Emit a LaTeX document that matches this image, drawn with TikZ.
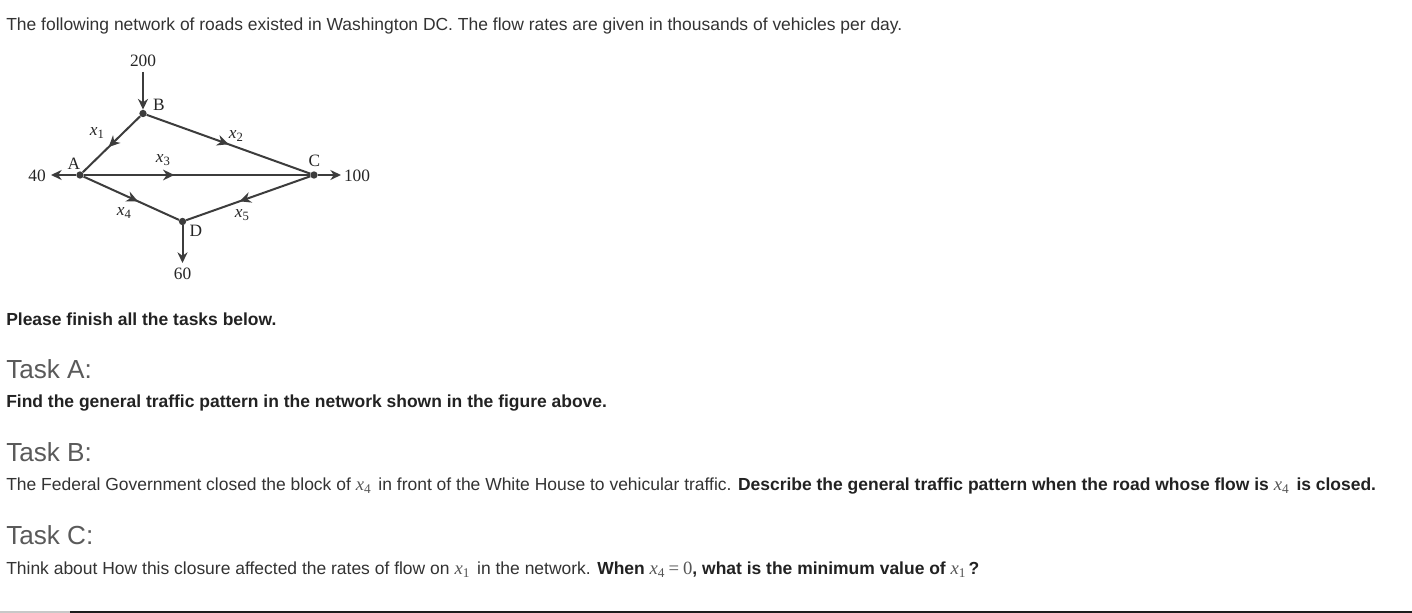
\documentclass[tikz,border=0pt]{standalone}
\usepackage{fontspec}
\setmainfont{Liberation Sans}
\newfontfamily\dserif{Liberation Serif}
\usetikzlibrary{arrows.meta,decorations.markings}
\definecolor{txt}{HTML}{333333}
\definecolor{boldtxt}{HTML}{222222}
\definecolor{head}{HTML}{5A5A5A}
\definecolor{road}{HTML}{3C3C3C}
\definecolor{mathc}{HTML}{555555}
\definecolor{rulelight}{HTML}{C8C8C8}
\definecolor{ruledark}{HTML}{1E1E1E}
\newcommand{\vx}[1]{{\dserif\color{mathc}\itshape\mdseries\fontsize{14}{14}\selectfont x\raisebox{-0.4ex}{\upshape\fontsize{10}{10}\selectfont #1}}}
\newcommand{\dvx}[1]{{\itshape x\raisebox{-0.4ex}{\upshape\fontsize{9.5}{9.5}\selectfont #1}}}
\tikzset{
  road/.style={draw=road, line width=1.5pt},
  midarrow/.style={postaction={decorate}, decoration={markings,
      mark=at position #1 with {\arrow[road]{Stealth[length=8.5pt,width=8pt]}}}},
  endarrow/.style={road, -{Stealth[length=8pt,width=7.5pt]}},
  junction/.style={circle, fill=road, inner sep=0pt, minimum size=5.5pt},
  dlabel/.style={font=\dserif\fontsize{13}{13}\selectfont, text=black!85, inner sep=0pt},
  bodytext/.style={anchor=base west, inner sep=0pt, font=\fontsize{13.1}{15}\selectfont, text=txt},
  boldtext/.style={bodytext, font=\fontsize{13.1}{15}\selectfont\bfseries, text=boldtxt},
  heading/.style={anchor=base west, inner sep=0pt, font=\fontsize{19.6}{21}\selectfont, text=head},
}
\begin{document}
\begin{tikzpicture}[x=0.75pt, y=-0.75pt]
\useasboundingbox (0,0) rectangle (1412,613);
\fill[white] (0,0) rectangle (1412,613);

% title
\node[bodytext] (title) at (6,31) {The following network of roads existed in Washington DC. The flow rates are given in thousands of vehicles per day.};

% network
\node[junction] (A) at (80,175) {};
\node[junction] (B) at (143,113.5) {};
\node[junction] (C) at (314,175) {};
\node[junction] (D) at (182.5,221.5) {};
\coordinate (in200) at (143,72);
\coordinate (out40) at (51,175);
\coordinate (out100) at (341,175);
\coordinate (out60) at (182.5,263);

\draw[endarrow] (in200) -- (B);
\draw[endarrow] (A) -- (out40);
\draw[endarrow] (C) -- (out100);
\draw[endarrow] (D) -- (out60);

\draw[road, midarrow=0.55] (B) -- (A);
\draw[road, midarrow=0.5] (B) -- (C);
\draw[road, midarrow=0.4] (A) -- (C);
\draw[road, midarrow=0.57] (A) -- (D);
\draw[road, midarrow=0.57] (C) -- (D);

\node[dlabel] (l200) at (143,61) {200};
\node[dlabel] (l40) at (37,176) {40};
\node[dlabel] (l100) at (357,176) {100};
\node[dlabel] (l60) at (182.5,274) {60};
\node[dlabel] (lB) at (159,104.5) {B};
\node[dlabel] (lA) at (74,163.5) {A};
\node[dlabel] (lC) at (314.5,161) {C};
\node[dlabel] (lD) at (196,231) {D};
\node[dlabel] (lx1) at (97,133) {\dvx{1}};
\node[dlabel] (lx2) at (236,136) {\dvx{2}};
\node[dlabel] (lx3) at (163,160) {\dvx{3}};
\node[dlabel] (lx4) at (124,213) {\dvx{4}};
\node[dlabel] (lx5) at (242,215) {\dvx{5}};

% tasks
\node[boldtext] (please) at (6,325) {Please finish all the tasks below.};
\node[heading] (taskA) at (6,378) {Task A:};
\node[boldtext] (findA) at (6,407) {Find the general traffic pattern in the network shown in the figure above.};
\node[heading] (taskB) at (6,461) {Task B:};
\node[bodytext] (lineB) at (6,490) {The Federal Government closed the block of \vx{4}\, in front of the White House to vehicular traffic. {\bfseries\color{boldtxt}Describe the general traffic pattern when the road whose flow is \vx{4}\, is closed.}};
\node[heading] (taskC) at (6,544) {Task C:};
\node[bodytext] (lineC) at (6,574) {Think about How this closure affected the rates of flow on \vx{1}\, in the network. {\bfseries\color{boldtxt}When \vx{4}\kern3pt{\dserif\color{mathc}\mdseries\fontsize{14}{14}\selectfont=\kern3pt0}, what is the minimum value of \vx{1}\,?}};

% bottom rule
\draw[rulelight, line width=1.5pt] (0,611.5) -- (70,611.5);
\draw[ruledark, line width=1.5pt] (70,611.5) -- (1412,611.5);
\end{tikzpicture}
\end{document}
